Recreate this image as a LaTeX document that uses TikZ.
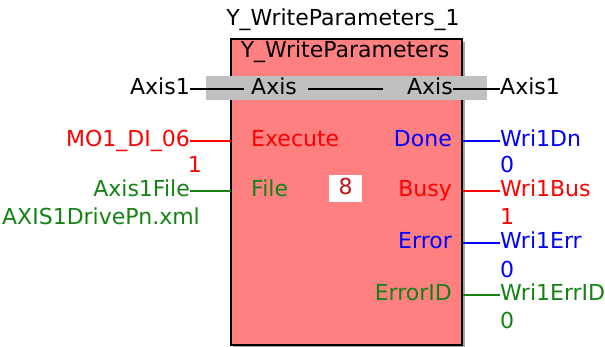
\documentclass[tikz,border=0pt]{standalone}
\usepackage{fontspec}
\setmainfont{DejaVu Sans}
\definecolor{boxred}{RGB}{255,128,128}
\definecolor{bandgray}{RGB}{192,192,192}
\definecolor{pgreen}{RGB}{20,130,20}
\definecolor{pred}{RGB}{255,0,0}
\definecolor{pblue}{RGB}{0,0,255}
\definecolor{darkred}{RGB}{190,20,20}
\begin{document}
\begin{tikzpicture}[x=1pt,y=-1pt,
  lbl/.style={inner sep=0pt,text height=16.5pt,text depth=4.5pt,font=\fontsize{22}{24}\selectfont},
  wire/.style={line width=1.2pt}]
\useasboundingbox (0,0) rectangle (605,347);
% body
\fill[gray!70] (233,42) rectangle (465,347);
\draw[fill=boxred,draw=black,line width=2pt] (231,39) rectangle (462,345);
\draw[black,line width=2pt] (231,76) -- (231,39) -- (462,39) -- (462,76);
\fill[bandgray] (206,76) rectangle (487,100);
% titles
\node[lbl,anchor=base] (inst) at (343,26) {Y\_WriteParameters\_1};
\node[lbl,anchor=base] (fb) at (345,58) {Y\_WriteParameters};
% axis row
\node[lbl,anchor=east] (axL) at (190,89) {Axis1};
\node[lbl,anchor=west] (axin) at (251,89) {Axis};
\node[lbl,anchor=east] (axout) at (453,89) {Axis};
\node[lbl,anchor=west] (axR) at (500,89) {Axis1};
\coordinate (axinpin) at (244,89);
\coordinate (axmidA) at (308,89);
\coordinate (axmidB) at (383,89);
\draw[wire] (axL.east) -- (axinpin);
\draw[wire] (axmidA) -- (axmidB);
\draw[wire] (axout.east) -- (axR.west);
% inputs
\node[lbl,anchor=east,text=pred] (mo1) at (190,141) {MO1\_DI\_06};
\node[lbl,anchor=base east,text=pred] (mo1v) at (202,173) {1};
\node[lbl,anchor=west,text=pred] (exe) at (251,141) {Execute};
\coordinate (exepin) at (231,141);
\draw[wire,pred] (mo1.east) -- (exepin);
\node[lbl,anchor=east,text=pgreen] (axf) at (190,191) {Axis1File};
\node[lbl,anchor=base east,text=pgreen] (axfv) at (200,225) {AXIS1DrivePn.xml};
\node[lbl,anchor=west,text=pgreen] (file) at (251,191) {File};
\coordinate (filepin) at (231,191);
\draw[wire,pgreen] (axf.east) -- (filepin);
\node[lbl,draw=none,fill=white,minimum width=33pt,minimum height=27pt,text=darkred] (eight) at (345.5,188.5) {8};
% outputs
\node[lbl,anchor=east,text=pblue] (done) at (452,141) {Done};
\coordinate (donepin) at (463,141);
\node[lbl,anchor=west,text=pblue] (wdn) at (500,141) {Wri1Dn};
\node[lbl,anchor=base west,text=pblue] (wdnv) at (500,173) {0};
\draw[wire,pblue] (donepin) -- (wdn.west);
\node[lbl,anchor=east,text=pred] (busy) at (452,191) {Busy};
\coordinate (busypin) at (463,191);
\node[lbl,anchor=west,text=pred] (wbus) at (500,191) {Wri1Bus};
\node[lbl,anchor=base west,text=pred] (wbusv) at (500,225) {1};
\draw[wire,pred] (busypin) -- (wbus.west);
\node[lbl,anchor=east,text=pblue] (err) at (452,243) {Error};
\coordinate (errpin) at (463,243);
\node[lbl,anchor=west,text=pblue] (werr) at (500,243) {Wri1Err};
\node[lbl,anchor=base west,text=pblue] (werrv) at (500,278) {0};
\draw[wire,pblue] (errpin) -- (werr.west);
\node[lbl,anchor=east,text=pgreen] (eid) at (452,295) {ErrorID};
\coordinate (eidpin) at (463,295);
\node[lbl,anchor=west,text=pgreen] (weid) at (500,295) {Wri1ErrID};
\node[lbl,anchor=base west,text=pgreen] (weidv) at (500,328) {0};
\draw[wire,pgreen] (eidpin) -- (weid.west);
\end{tikzpicture}
\end{document}
